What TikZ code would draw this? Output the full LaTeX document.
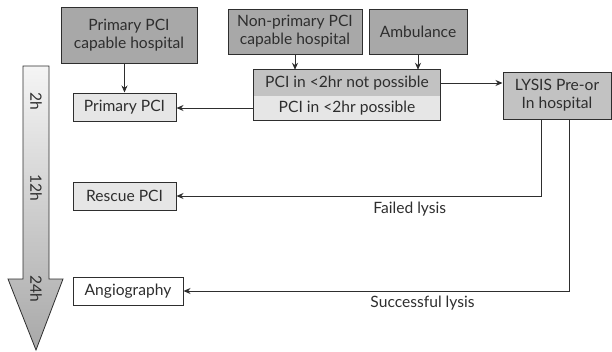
\documentclass[tikz,border=0pt]{standalone}
\usepackage{fontspec}
\setmainfont{Lato}
\usepackage{tikz}
\usetikzlibrary{arrows.meta,positioning,calc}
\definecolor{boxdark}{HTML}{A8A8A8}
\definecolor{boxmid}{HTML}{C2C2C2}
\definecolor{boxlight}{HTML}{E6E6E6}
\definecolor{inkgrey}{HTML}{2E2E2E}

\begin{document}
\begin{tikzpicture}[x=1pt,y=-1pt,
  every node/.style={font=\fontsize{15.6}{18}\selectfont,text=inkgrey,align=center,inner sep=0pt},
  srcbox/.style={draw=inkgrey,line width=1pt,fill=boxdark},
  lysbox/.style={draw=inkgrey,line width=1pt,fill=boxmid},
  endbox/.style={draw=inkgrey,line width=1pt,fill=boxlight,minimum height=28pt},
  link/.style={draw=inkgrey,line width=1pt,-{Stealth[length=7pt,width=6pt]}}]
  \useasboundingbox (0,0) rectangle (612,351);
  % time axis
  \path[draw=inkgrey,line width=0.8pt,top color=gray!8,bottom color=gray!68]
    (23,66) -- (49,66) -- (49,279) -- (63,279) -- (36,350) -- (8,279) -- (23,279) -- cycle;
  \node[rotate=-90] (t2) at (36,101) {2h};
  \node[rotate=-90] (t12) at (36,188) {12h};
  \node[rotate=-90] (t24) at (36,289) {24h};
  % sources
  \node[srcbox,minimum width=136pt,minimum height=56pt] (primhosp) at (129,35) {Primary PCI\\capable hospital};
  \node[srcbox,minimum width=134pt,minimum height=45pt] (nonprim) at (295,31.5) {Non-primary PCI\\capable hospital};
  \node[srcbox,minimum width=98pt,minimum height=45pt,anchor=north] (amb) at (418,9) {Ambulance};
  % decision
  \node[fill=boxmid,minimum width=186pt,minimum height=26pt] (pcinot) at (347,83) {PCI in <2hr not possible};
  \node[fill=boxlight,minimum width=186pt,minimum height=24pt] (pciyes) at (347,108) {PCI in <2hr possible};
  \draw[inkgrey,line width=1pt] (pcinot.north west) rectangle (pciyes.south east);
  \node[lysbox,minimum width=108pt,minimum height=47pt] (lysis) at (557,95.5) {LYSIS Pre-or\\In hospital};
  % outcomes
  \node[endbox,minimum width=103pt] (primpci) at (124.5,107) {Primary PCI};
  \node[endbox,minimum width=103pt] (rescue) at (124.5,196) {Rescue PCI};
  \node[endbox,fill=white,minimum width=110pt] (angio) at (128,291) {Angiography};
  % connectors
  \draw[link] (primpci.north |- primhosp.south) -- (primpci.north);
  \draw[link] (nonprim.south) -- (nonprim.south |- pcinot.north);
  \draw[link] (amb.south) -- (amb.south |- pcinot.north);
  \draw[link] (pciyes.west) -- (pciyes.west -| primpci.east);
  \draw[link] (pcinot.east) -- (pcinot.east -| lysis.west);
  \draw[link] ([xshift=-16pt]lysis.south) |- (rescue.east)
    node[pos=0.68,below=6pt] (failed) {Failed lysis};
  \draw[link] ([xshift=12pt]lysis.south) |- (angio.east)
    node[pos=0.69,below=5pt] (success) {Successful lysis};
\end{tikzpicture}
\end{document}
